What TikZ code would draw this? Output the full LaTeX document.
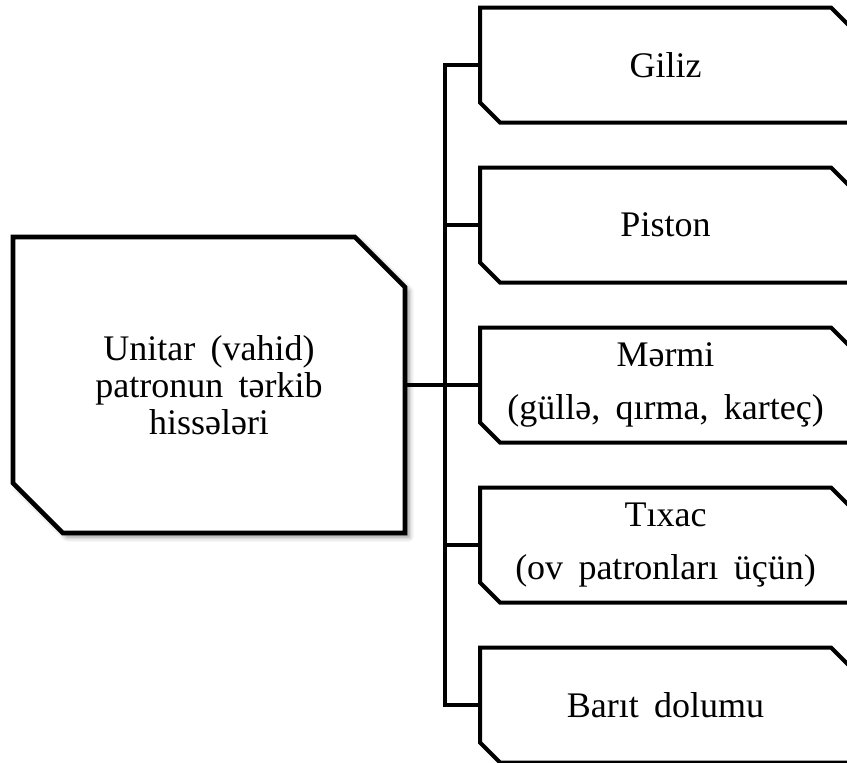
\documentclass[tikz,border=0pt]{standalone}
\usepackage{fontspec}
\setmainfont{Liberation Serif}[WordSpace=1.7]
\usetikzlibrary{shapes.misc,shadows.blur}

\begin{document}
\begin{tikzpicture}[x=0.5pt,y=-0.5pt,
  grow'=right, level distance=228.25pt, sibling distance=80pt,
  edge from parent/.style={draw, line width=2pt},
  edge from parent path={(\tikzparentnode.east) -- ++(19pt,0) |- (\tikzchildnode.west)},
  part/.style={chamfered rectangle, chamfered rectangle corners={north east,south west},
    draw, line width=2pt, fill=white, align=center, inner sep=0pt,
    font=\fontsize{18}{18.5}\selectfont,
    minimum width=185.5pt, minimum height=57.5pt, chamfered rectangle sep=5pt},
  whole/.style={part, line width=2.3pt, minimum width=196pt, minimum height=148pt,
    chamfered rectangle sep=12.5pt,
    blur shadow={shadow xshift=2pt, shadow yshift=-2pt, shadow blur radius=2.5pt, shadow opacity=45}}]

  \clip (0,0) rectangle (847,762);

  \node[whole] (unitar) at (209,385) {Unitar (vahid)\\patronun tərkib\\hissələri}
    child {node[part] (giliz) {Giliz}}
    child {node[part] (piston) {Piston}}
    child {node[part] (mermi) {Mərmi\\[8pt](güllə, qırma, karteç)}}
    child {node[part] (tixac) {Tıxac\\[8pt](ov patronları üçün)}}
    child {node[part] (barit) {Barıt dolumu}};
\end{tikzpicture}
\end{document}
